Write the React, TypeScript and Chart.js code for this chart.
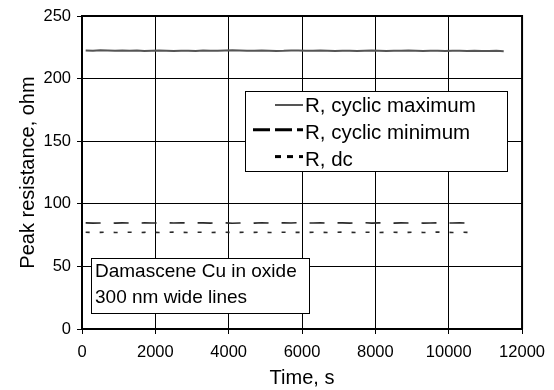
import React, { useEffect, useRef } from 'react';
import { Chart, registerables } from 'chart.js';

Chart.register(...registerables);

const FONT = "'Liberation Sans', Arial, Helvetica, sans-serif";

const xTickValues = [0, 2000, 4000, 6000, 8000, 10000, 12000];
const yTickValues = [0, 50, 100, 150, 200, 250];

const times = [
  100, 300, 500, 700, 900, 1100, 1300, 1500, 1700, 1900,
  2100, 2300, 2500, 2700, 2900, 3100, 3300, 3500, 3700, 3900,
  4100, 4300, 4500, 4700, 4900, 5100, 5300, 5500, 5700, 5900,
  6100, 6300, 6500, 6700, 6900, 7100, 7300, 7500, 7700, 7900,
  8100, 8300, 8500, 8700, 8900, 9100, 9300, 9500, 9700, 9900,
  10100, 10300, 10500, 10700,
];
const maxExtraTimes = [10900, 11100, 11300, 11500];

const maxValues = [
  222.5, 222.3, 222.6, 222.4, 222.2, 222.5, 222.3, 222.4, 222.1, 222.3,
  222.4, 222.2, 222.0, 222.2, 222.3, 222.1, 222.4, 222.2, 222.3, 222.5,
  222.6, 222.4, 222.3, 222.2, 222.4, 222.3, 222.1, 222.2, 222.5, 222.4,
  222.3, 222.2, 222.4, 222.3, 222.1, 222.2, 222.3, 222.0, 222.2, 222.4,
  222.3, 222.1, 222.2, 222.3, 222.4, 222.2, 222.1, 222.3, 222.2, 222.0,
  222.2, 222.3, 222.1, 222.2, 222.0, 222.1, 222.2, 221.9,
];
const minValues = [
  84.8, 84.6, 84.7, 84.9, 84.6, 84.8, 84.7, 84.5, 84.8, 84.7,
  84.6, 84.8, 84.7, 84.9, 84.6, 84.7, 84.8, 84.6, 84.7, 84.8,
  84.5, 84.7, 84.8, 84.6, 84.9, 84.7, 84.6, 84.8, 84.7, 84.9,
  84.6, 84.7, 84.8, 84.5, 84.7, 84.8, 84.6, 84.7, 84.9, 84.6,
  84.8, 84.7, 84.6, 84.8, 84.7, 84.9, 84.6, 84.7, 84.8, 84.6,
  84.7, 84.8, 84.6, 84.7,
];
const dcValues = [
  77.3, 77.1, 77.2, 77.4, 77.1, 77.2, 77.3, 77.0, 77.2, 77.3,
  77.1, 77.2, 77.4, 77.2, 77.1, 77.3, 77.2, 77.0, 77.2, 77.3,
  77.1, 77.2, 77.3, 77.2, 77.4, 77.1, 77.2, 77.3, 77.1, 77.2,
  77.0, 77.3, 77.2, 77.1, 77.2, 77.4, 77.2, 77.1, 77.3, 77.2,
  77.1, 77.2, 77.3, 77.0, 77.2, 77.3, 77.1, 77.2, 77.4, 77.2,
  77.1, 77.3, 77.2, 77.1,
];

const seriesLabels = ['R, cyclic maximum', 'R, cyclic minimum', 'R, dc'];
const noteLines = ['Damascene Cu in oxide', '300 nm wide lines'];
const xTitle = 'Time, s';
const yTitle = 'Peak resistance, ohm';

const legendStyles = [
  { color: '#555555', width: 2, dash: [] as number[], x0: 275 },
  { color: '#000000', width: 3, dash: [17, 5], x0: 253 },
  { color: '#000000', width: 3, dash: [6, 6], x0: 275 },
];

const framePlugin = {
  id: 'frameAndBoxes',
  afterDatasetsDraw(chart: any) {
    const { ctx, chartArea } = chart;
    ctx.save();
    // top and right frame
    ctx.strokeStyle = '#000';
    ctx.lineWidth = 2;
    ctx.beginPath();
    ctx.moveTo(chartArea.left, chartArea.top);
    ctx.lineTo(chartArea.right, chartArea.top);
    ctx.lineTo(chartArea.right, chartArea.bottom);
    ctx.stroke();

    // legend box
    ctx.fillStyle = '#fff';
    ctx.lineWidth = 1;
    ctx.fillRect(245.5, 91.5, 262, 80);
    ctx.strokeRect(245.5, 91.5, 262, 80);
    ctx.font = `20.5px ${FONT}`;
    ctx.textBaseline = 'alphabetic';
    ctx.textAlign = 'left';
    seriesLabels.forEach((label, i) => {
      const base = 112 + i * 26.8;
      const st = legendStyles[i];
      ctx.beginPath();
      ctx.setLineDash(st.dash);
      ctx.strokeStyle = st.color;
      ctx.lineWidth = st.width;
      const ly = base - 7 - (i > 0 ? 2 : 0);
      ctx.moveTo(st.x0, ly);
      ctx.lineTo(303, ly);
      ctx.stroke();
      ctx.setLineDash([]);
      ctx.fillStyle = '#000';
      ctx.fillText(label, 305, base);
    });

    // annotation box
    ctx.fillStyle = '#fff';
    ctx.strokeStyle = '#000';
    ctx.lineWidth = 1;
    ctx.fillRect(91.5, 258.5, 218, 55);
    ctx.strokeRect(91.5, 258.5, 218, 55);
    ctx.fillStyle = '#000';
    ctx.font = `19px ${FONT}`;
    noteLines.forEach((line, i) => {
      ctx.fillText(line, 95, 277 + i * 26);
    });
    ctx.restore();
  },
};

export default function App() {
  const ref = useRef<HTMLCanvasElement | null>(null);

  useEffect(() => {
    if (!ref.current) return;
    const allMaxTimes = [...times, ...maxExtraTimes];
    const chart = new Chart(ref.current, {
      type: 'line',
      data: {
        datasets: [
          {
            label: seriesLabels[0],
            data: allMaxTimes.map((t, i) => ({ x: t, y: maxValues[i] })),
            borderColor: '#555555',
            borderWidth: 2,
            pointRadius: 0,
            tension: 0,
          },
          {
            label: seriesLabels[1],
            data: times.map((t, i) => ({ x: t, y: minValues[i] })),
            borderColor: '#2a2a2a',
            borderWidth: 1.6,
            borderDash: [15, 13],
            pointRadius: 0,
            tension: 0,
          },
          {
            label: seriesLabels[2],
            data: times.map((t, i) => ({ x: t, y: dcValues[i] })),
            borderColor: '#2a2a2a',
            borderWidth: 1.6,
            borderDash: [4, 10],
            pointRadius: 0,
            tension: 0,
          },
        ],
      },
      options: {
        responsive: false,
        animation: false,
        layout: { padding: { left: 0, top: 16, right: 28, bottom: 0 } },
        plugins: {
          legend: { display: false },
          tooltip: { enabled: false },
        },
        scales: {
          x: {
            type: 'linear',
            min: xTickValues[0],
            max: xTickValues[xTickValues.length - 1],
            afterBuildTicks: (scale: any) => {
              scale.ticks = xTickValues.map((v) => ({ value: v }));
            },
            afterFit: (scale: any) => {
              scale.height = 61;
            },
            grid: { color: '#000', lineWidth: 1, tickLength: 5, drawTicks: true },
            border: { display: true, color: '#000', width: 2 },
            ticks: {
              color: '#000',
              padding: 9,
              maxRotation: 0,
              autoSkip: false,
              font: { family: FONT, size: 16.5 },
              callback: (v: any) => String(v),
            },
            title: {
              display: true,
              text: xTitle,
              color: '#000',
              font: { family: FONT, size: 20 },
              padding: { top: 0, bottom: 0 },
            },
          },
          y: {
            type: 'linear',
            min: yTickValues[0],
            max: yTickValues[yTickValues.length - 1],
            afterBuildTicks: (scale: any) => {
              scale.ticks = yTickValues.map((v) => ({ value: v }));
            },
            afterFit: (scale: any) => {
              scale.width = 82;
            },
            grid: { color: '#000', lineWidth: 1, tickLength: 5, drawTicks: true },
            border: { display: true, color: '#000', width: 2 },
            ticks: {
              color: '#000',
              padding: 6,
              autoSkip: false,
              font: { family: FONT, size: 16.5 },
              callback: (v: any) => String(v),
            },
            title: {
              display: true,
              text: yTitle,
              color: '#000',
              font: { family: FONT, size: 20 },
              padding: { top: 16, bottom: 0 },
            },
          },
        },
      },
      plugins: [framePlugin],
    } as any);
    return () => chart.destroy();
  }, []);

  return (
    <div style={{ position: 'fixed', left: 0, top: 0, width: 554, height: 390, background: '#fff' }}>
      <canvas ref={ref} width={554} height={390} style={{ width: 554, height: 390, display: 'block' }} />
    </div>
  );
}
